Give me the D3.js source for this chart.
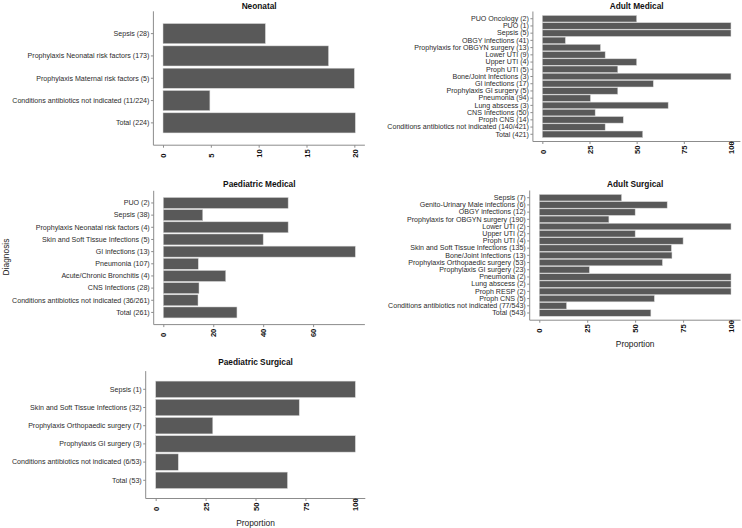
<!DOCTYPE html>
<html>
<head>
<meta charset="utf-8">
<script src="https://cdn.jsdelivr.net/npm/d3@7"></script>
<style>
  body { margin: 0; background: #fff; }
  svg { display: block; font-family: "Liberation Sans", Arial, sans-serif; opacity: 0.999; }
</style>
</head>
<body>
<div id="chart-container"></div>
<script>
const width = 742;
const height = 528;

// Data (proportion, %)
const neonatalCats = ["Sepsis (28)", "Prophylaxis Neonatal risk factors (173)", "Prophylaxis Maternal risk factors (5)",
    "Conditions antibiotics not indicated (11/224)", "Total (224)"];
const neonatalVals = [10.7, 17.3, 20, 4.9, 20.1];
const neonatalTicks = [0, 5, 10, 15, 20];

const adultMedCats = ["PUO Oncology (2)", "PUO (1)", "Sepsis (5)", "OBGY infections (41)", "Prophylaxis for OBGYN surgery (13)",
    "Lower UTI (9)", "Upper UTI (4)", "Proph UTI (5)", "Bone/Joint Infections (3)", "GI infections (17)",
    "Prophylaxis GI surgery (5)", "Pneumonia (94)", "Lung abscess (3)", "CNS Infections (50)", "Proph CNS (14)",
    "Conditions antibiotics not indicated (140/421)", "Total (421)"];
const adultMedVals = [50, 100, 100, 12.2, 30.8, 33.3, 50, 40, 100, 58.8, 40, 25.5, 66.7, 28, 42.9, 33.3, 53.2];

const paedMedCats = ["PUO (2)", "Sepsis (38)", "Prophylaxis Neonatal risk factors (4)", "Skin and Soft Tissue Infections (5)",
    "GI infections (13)", "Pneumonia (107)", "Acute/Chronic Bronchitis (4)", "CNS Infections (28)",
    "Conditions antibiotics not indicated (36/261)", "Total (261)"];
const paedMedVals = [50, 15.8, 50, 40, 76.9, 14, 25, 14.3, 13.9, 29.5];
const paedMedTicks = [0, 20, 40, 60];

const adultSurgCats = ["Sepsis (7)", "Genito-Urinary Male infections (6)", "OBGY infections (12)", "Prophylaxis for OBGYN surgery (190)",
    "Lower UTI (2)", "Upper UTI (2)", "Proph UTI (4)", "Skin and Soft Tissue Infections (135)", "Bone/Joint Infections (13)",
    "Prophylaxis Orthopaedic surgery (53)", "Prophylaxis GI surgery (23)", "Pneumonia (2)", "Lung abscess (2)",
    "Proph RESP (2)", "Proph CNS (5)", "Conditions antibiotics not indicated (77/543)", "Total (543)"];
const adultSurgVals = [42.9, 66.7, 50, 36.3, 100, 50, 75, 68.9, 69.2, 64.2, 26.1, 100, 100, 100, 60, 14.2, 58.2];

const paedSurgCats = ["Sepsis (1)", "Skin and Soft Tissue Infections (32)", "Prophylaxis Orthopaedic surgery (7)",
    "Prophylaxis GI surgery (3)", "Conditions antibiotics not indicated (6/53)", "Total (53)"];
const paedSurgVals = [100, 71.9, 28.6, 100, 11.3, 66];

const pctTicks = [0, 25, 50, 75, 100];

var svg = d3.select("#chart-container")
    .append("svg")
    .attr("width", width)
    .attr("height", height);

// One facet panel: box = outer edges of the plotting area (axis lines)
function drawPanel(title, cats, vals, ticks, box, showXTitle) {
    var dmax = d3.max(vals);
    var xScale = d3.scaleLinear()
        .domain([-0.05 * dmax, 1.05 * dmax])
        .range([box.x0, box.x1]);

    var yScale = d3.scaleBand()
        .domain(cats)
        .range([box.y0, box.y1])
        .paddingInner(0.1)
        .paddingOuter(0.55);

    var g = svg.append("g");

    // bars
    g.selectAll("rect.bar")
        .data(cats)
        .enter().append("rect")
        .attr("class", "bar")
        .attr("x", xScale(0))
        .attr("y", d => yScale(d))
        .attr("width", (d, i) => xScale(vals[i]) - xScale(0))
        .attr("height", yScale.bandwidth())
        .attr("fill", "#595959")
        .attr("stroke", "#d4d4d4")
        .attr("stroke-width", 0.5);

    // y axis
    var yAxis = g.append("g")
        .attr("transform", `translate(${box.x0}, 0)`)
        .call(d3.axisLeft(yScale).tickSize(2.5).tickPadding(1.5));
    yAxis.select(".domain").attr("stroke", "#8c8c8c").attr("d", `M0,${box.y0}V${box.y1}`);
    yAxis.selectAll(".tick line").attr("stroke", "#8c8c8c");
    yAxis.selectAll(".tick text")
        .attr("fill", "#2b2b2b")
        .style("font-size", "7.1px");

    // x axis
    var xAxis = g.append("g")
        .attr("transform", `translate(0, ${box.y1})`)
        .call(d3.axisBottom(xScale).tickValues(ticks).tickSize(2.5));
    xAxis.select(".domain").attr("stroke", "#8c8c8c").attr("d", `M${box.x0},0H${box.x1}`);
    xAxis.selectAll(".tick line").attr("stroke", "#8c8c8c");
    xAxis.selectAll(".tick text")
        .attr("transform", "translate(0, 12.5) rotate(-90)")
        .attr("x", 0)
        .attr("y", 0)
        .attr("dy", "0.35em")
        .attr("text-anchor", "start")
        .attr("fill", "#111")
        .style("font-size", "7.6px")
        .style("font-weight", "bold");

    // panel title
    svg.append("text")
        .attr("x", (box.x0 + box.x1) / 2)
        .attr("y", box.titleY)
        .attr("text-anchor", "middle")
        .attr("dominant-baseline", "central")
        .style("font-size", "8.3px")
        .style("font-weight", "bold")
        .attr("fill", "#111")
        .text(title);

    if (showXTitle) {
        svg.append("text")
            .attr("x", (box.x0 + box.x1) / 2)
            .attr("y", box.y1 + 24)
            .attr("text-anchor", "middle")
            .attr("dominant-baseline", "central")
            .style("font-size", "8.4px")
            .attr("fill", "#222")
            .text("Proportion");
    }
}

drawPanel("Neonatal", neonatalCats, neonatalVals, neonatalTicks,
    {x0: 153.4, x1: 364.9, y0: 11.3, y1: 145.2, titleY: 5.5}, false);
drawPanel("Adult Medical", adultMedCats, adultMedVals, pctTicks,
    {x0: 532.9, x1: 740.4, y0: 11.5, y1: 141.5, titleY: 5.5}, false);
drawPanel("Paediatric Medical", paedMedCats, paedMedVals, paedMedTicks,
    {x0: 153.7, x1: 364.9, y0: 190.8, y1: 324.6, titleY: 183.5}, false);
drawPanel("Adult Surgical", adultSurgCats, adultSurgVals, pctTicks,
    {x0: 529.7, x1: 740.6, y0: 190.5, y1: 320.2, titleY: 183.5}, true);
drawPanel("Paediatric Surgical", paedSurgCats, paedSurgVals, pctTicks,
    {x0: 145.7, x1: 365.3, y0: 371.1, y1: 498.5, titleY: 361.7}, true);

// shared y axis title
svg.append("text")
    .attr("transform", "translate(6, 257) rotate(-90)")
    .attr("text-anchor", "middle")
    .attr("dominant-baseline", "central")
    .style("font-size", "8.4px")
    .attr("fill", "#222")
    .text("Diagnosis");
</script>
</body>
</html>
